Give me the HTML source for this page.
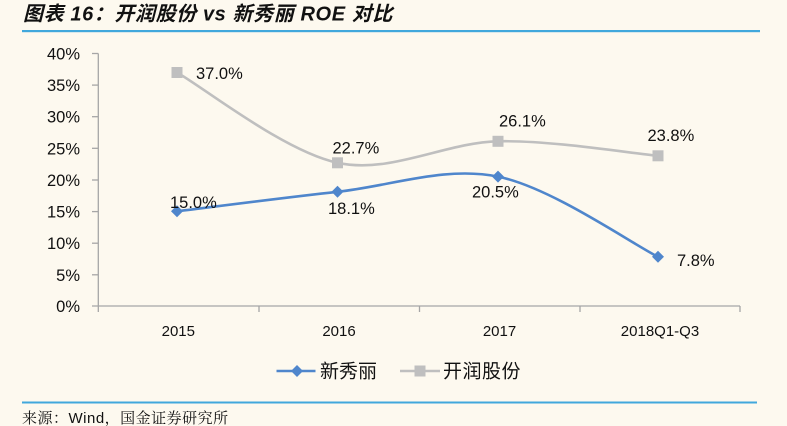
<!DOCTYPE html>
<html><head><meta charset="utf-8">
<style>
html,body{margin:0;padding:0;background:#fdf9ef;}
body{width:787px;height:426px;overflow:hidden;}
svg{display:block;}
text{font-family:"Liberation Sans","Noto Sans CJK SC",sans-serif;fill:#111;}
</style></head>
<body>
<svg width="787" height="426" viewBox="0 0 787 426" xmlns="http://www.w3.org/2000/svg">
<rect width="787" height="426" fill="#fdf9ef"/>
<text x="23" y="20.5" font-size="20" font-weight="bold" font-style="italic" letter-spacing="0.6">图表 16：开润股份 vs 新秀丽 ROE 对比</text>
<rect x="22" y="30" width="738" height="2.2" fill="#41a8dc"/>

<!-- axes -->
<g stroke="#a6a6a6" stroke-width="1.3" fill="none">
<line x1="98.3" y1="53.5" x2="98.3" y2="306"/>
<line x1="92" y1="306" x2="740" y2="306"/>
<line x1="92" y1="53.5" x2="98.3" y2="53.5"/>
<line x1="92" y1="85.1" x2="98.3" y2="85.1"/>
<line x1="92" y1="116.7" x2="98.3" y2="116.7"/>
<line x1="92" y1="148.3" x2="98.3" y2="148.3"/>
<line x1="92" y1="180" x2="98.3" y2="180"/>
<line x1="92" y1="211.6" x2="98.3" y2="211.6"/>
<line x1="92" y1="243.2" x2="98.3" y2="243.2"/>
<line x1="92" y1="274.8" x2="98.3" y2="274.8"/>
<line x1="98.3" y1="306" x2="98.3" y2="312"/>
<line x1="259" y1="306" x2="259" y2="312"/>
<line x1="419.5" y1="306" x2="419.5" y2="312"/>
<line x1="580" y1="306" x2="580" y2="312"/>
<line x1="740" y1="306" x2="740" y2="312"/>
</g>

<g font-size="16.5" text-anchor="end">
<text x="80" y="59.5">40%</text>
<text x="80" y="91.1">35%</text>
<text x="80" y="122.7">30%</text>
<text x="80" y="154.3">25%</text>
<text x="80" y="186">20%</text>
<text x="80" y="217.6">15%</text>
<text x="80" y="249.2">10%</text>
<text x="80" y="280.8">5%</text>
<text x="80" y="312">0%</text>
</g>

<g font-size="15" text-anchor="middle">
<text x="178.3" y="336">2015</text>
<text x="339" y="336">2016</text>
<text x="499.5" y="336">2017</text>
<text x="660" y="336">2018Q1-Q3</text>
</g>

<!-- gray series -->
<path d="M177,72.5 C203.75,87.55 284,151.3 337.5,162.8 C391,174.3 444.6,142.5 498,141.3 C551.4,140.1 631.3,153.4 658,155.8" stroke="#bfbfbf" stroke-width="2.6" fill="none"/>
<g fill="#bfbfbf">
<rect x="171.5" y="67" width="11" height="11"/>
<rect x="332" y="157.3" width="11" height="11"/>
<rect x="492.5" y="135.8" width="11" height="11"/>
<rect x="652.5" y="150.3" width="11" height="11"/>
</g>

<!-- blue series -->
<path d="M177,211.3 C203.75,208.05 284,197.6 337.5,191.8 C391,186 444.6,165.8 498,176.6 C551.4,187.4 631.3,243.4 658,256.8" stroke="#4f86cc" stroke-width="2.6" fill="none"/>
<g fill="#4f86cc">
<path d="M177,205.3 L183,211.3 L177,217.3 L171,211.3Z"/>
<path d="M337.5,185.8 L343.5,191.8 L337.5,197.8 L331.5,191.8Z"/>
<path d="M498,170.6 L504,176.6 L498,182.6 L492,176.6Z"/>
<path d="M658,250.8 L664,256.8 L658,262.8 L652,256.8Z"/>
</g>

<g font-size="16.5">
<text x="196" y="79">37.0%</text>
<text x="170" y="208">15.0%</text>
<text x="332.5" y="153.5">22.7%</text>
<text x="328" y="214">18.1%</text>
<text x="499" y="126.5">26.1%</text>
<text x="472" y="197.5">20.5%</text>
<text x="647.5" y="141">23.8%</text>
<text x="677" y="266">7.8%</text>
</g>

<!-- legend -->
<line x1="276.5" y1="371" x2="315.5" y2="371" stroke="#4f86cc" stroke-width="2.6"/>
<path d="M297,365 L303,371 L297,377 L291,371Z" fill="#4f86cc"/>
<text x="320" y="377.5" font-size="19">新秀丽</text>
<line x1="400" y1="371" x2="440" y2="371" stroke="#bfbfbf" stroke-width="2.6"/>
<rect x="414.5" y="365.5" width="11" height="11" fill="#bfbfbf"/>
<text x="443" y="377.5" font-size="19" letter-spacing="0.5">开润股份</text>

<rect x="22" y="401.5" width="735" height="2" fill="#41a8dc"/>
<text x="22" y="423" font-size="15" letter-spacing="0.5" style="font-family:'Liberation Sans','Noto Serif CJK SC',serif">来源：Wind，国金证券研究所</text>
</svg>
</body></html>
